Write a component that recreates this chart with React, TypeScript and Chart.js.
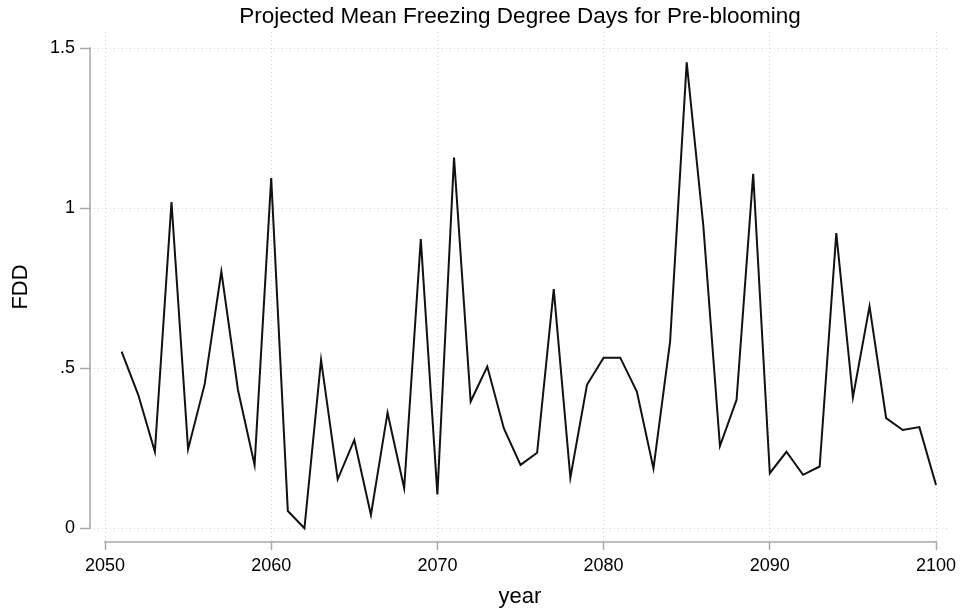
import React, { useEffect, useRef } from 'react';
import { Chart, registerables } from 'chart.js';

Chart.register(...registerables);

const years = [
  2051, 2052, 2053, 2054, 2055, 2056, 2057, 2058, 2059, 2060,
  2061, 2062, 2063, 2064, 2065, 2066, 2067, 2068, 2069, 2070,
  2071, 2072, 2073, 2074, 2075, 2076, 2077, 2078, 2079, 2080,
  2081, 2082, 2083, 2084, 2085, 2086, 2087, 2088, 2089, 2090,
  2091, 2092, 2093, 2094, 2095, 2096, 2097, 2098, 2099, 2100,
];

const fdd = [
  0.552, 0.417, 0.239, 1.019, 0.247, 0.451, 0.802, 0.432, 0.198, 1.094,
  0.054, 0.0, 0.526, 0.153, 0.276, 0.042, 0.361, 0.125, 0.903, 0.106,
  1.158, 0.396, 0.505, 0.312, 0.198, 0.236, 0.747, 0.158, 0.448, 0.533,
  0.533, 0.427, 0.187, 0.583, 1.455, 0.945, 0.257, 0.401, 1.107, 0.172,
  0.239, 0.167, 0.193, 0.922, 0.409, 0.693, 0.344, 0.307, 0.316, 0.135,
];

const xTickValues = [2050, 2060, 2070, 2080, 2090, 2100];
const yTickValues = [0, 0.5, 1, 1.5];
const yTickLabels = ['0', '.5', '1', '1.5'];

const TITLE = 'Projected Mean Freezing Degree Days for Pre-blooming';
const X_TITLE = 'year';
const Y_TITLE = 'FDD';

const FONT = '"Liberation Sans", Arial, Helvetica, sans-serif';
const AXIS_COLOR = '#a8a8a8';
const GRID_COLOR = '#d4d4d4';

const axisLinesPlugin = {
  id: 'stataAxisLines',
  beforeDatasetsDraw(chart: any) {
    const { ctx, chartArea, scales } = chart;
    const x = scales.x;
    const y = scales.y;
    ctx.save();
    ctx.strokeStyle = AXIS_COLOR;
    ctx.lineWidth = 1.5;
    ctx.setLineDash([]);
    ctx.beginPath();
    ctx.moveTo(chartArea.left, y.getPixelForValue(yTickValues[0]) + 0.75);
    ctx.lineTo(chartArea.left, y.getPixelForValue(yTickValues[yTickValues.length - 1]) - 0.75);
    ctx.moveTo(x.getPixelForValue(xTickValues[0]) - 0.75, chartArea.bottom);
    ctx.lineTo(x.getPixelForValue(xTickValues[xTickValues.length - 1]) + 0.75, chartArea.bottom);
    ctx.stroke();
    ctx.restore();
  },
};

export default function App() {
  const canvasRef = useRef<HTMLCanvasElement | null>(null);

  useEffect(() => {
    if (!canvasRef.current) return;
    const chart = new Chart(canvasRef.current, {
      type: 'line',
      data: {
        datasets: [
          {
            data: years.map((yr, i) => ({ x: yr, y: fdd[i] })),
            borderColor: '#111111',
            borderWidth: 2,
            pointRadius: 0,
            tension: 0,
            fill: false,
          },
        ],
      },
      plugins: [axisLinesPlugin],
      options: {
        animation: false,
        responsive: false,
        devicePixelRatio: 1,
        layout: { padding: { left: 0, right: 10, top: 0, bottom: 0 } },
        plugins: {
          legend: { display: false },
          tooltip: { enabled: false },
          title: {
            display: true,
            text: TITLE,
            color: '#000',
            fullSize: false,
            font: { family: FONT, size: 22.5, weight: 'normal' },
            padding: { top: 3.5, bottom: 1.5 },
          },
        },
        scales: {
          x: {
            type: 'linear',
            position: 'bottom',
            min: 2049.097,
            max: 2100.842,
            afterBuildTicks: (scale: any) => {
              scale.ticks = xTickValues.map((v) => ({ value: v }));
            },
            afterFit: (scale: any) => {
              scale.height = 73;
              scale.paddingLeft = 0;
              scale.paddingRight = 0;
            },
            ticks: {
              autoSkip: false,
              maxRotation: 0,
              padding: 5,
              color: '#000',
              font: { family: FONT, size: 18 },
              callback: (v: any) => String(v),
            },
            grid: {
              color: GRID_COLOR,
              lineWidth: 1,
              drawTicks: true,
              tickLength: 8,
              tickColor: AXIS_COLOR,
              tickWidth: 1.5,
            },
            border: { display: false, dash: [1, 3] },
            title: {
              display: true,
              text: X_TITLE,
              color: '#000',
              font: { family: FONT, size: 22 },
              padding: { top: 0, bottom: 4.8 },
            },
          },
          y: {
            type: 'linear',
            position: 'left',
            min: -0.0428,
            max: 1.55,
            afterBuildTicks: (scale: any) => {
              scale.ticks = yTickValues.map((v) => ({ value: v }));
            },
            afterFit: (scale: any) => {
              scale.width = 90;
              scale.paddingTop = 0;
              scale.paddingBottom = 0;
            },
            ticks: {
              autoSkip: false,
              padding: 5,
              color: '#000',
              font: { family: FONT, size: 18 },
              callback: (v: any) => {
                const idx = yTickValues.indexOf(Number(v));
                return idx >= 0 ? yTickLabels[idx] : '';
              },
            },
            grid: {
              color: GRID_COLOR,
              lineWidth: 1,
              drawTicks: true,
              tickLength: 10,
              tickColor: AXIS_COLOR,
              tickWidth: 1.5,
            },
            border: { display: false, dash: [1, 3] },
            title: {
              display: true,
              text: Y_TITLE,
              color: '#000',
              font: { family: FONT, size: 22 },
              padding: { top: 7.3, bottom: 0 },
            },
          },
        },
      },
    } as any);
    return () => chart.destroy();
  }, []);

  return (
    <div style={{ position: 'absolute', left: 0, top: 0, width: 960, height: 615, background: '#fff' }}>
      <canvas ref={canvasRef} width={960} height={615} style={{ display: 'block' }} />
    </div>
  );
}
